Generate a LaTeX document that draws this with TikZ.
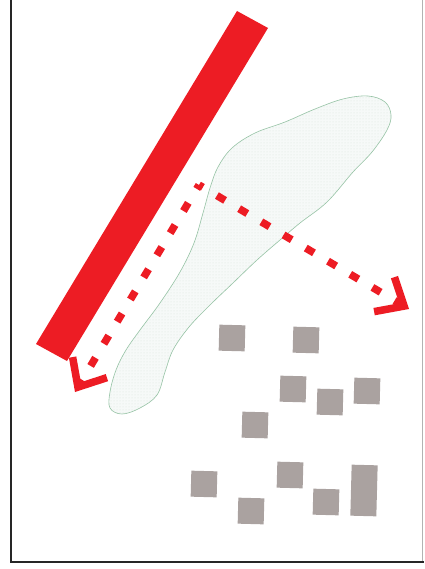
\documentclass[tikz,border=0pt]{standalone}
\usepackage{tikz}
\usetikzlibrary{arrows.meta,patterns}
\definecolor{planred}{RGB}{237,28,36}
\definecolor{blockgray}{RGB}{170,162,160}
\definecolor{blobfill}{RGB}{246,249,248}
\definecolor{blobline}{RGB}{150,195,165}
\definecolor{blobdot}{RGB}{218,228,222}
\tikzset{
  flow/.style={planred, line width=7.5pt, dash pattern=on 9.5pt off 16.3pt, dash phase=5pt,
    -{Straight Barb[length=23pt,width=40pt,line width=7.5pt,sharp]}},
  block/.style={fill=blockgray},
}
\begin{document}
\begin{tikzpicture}[x=1pt,y=-1pt]
        \useasboundingbox (0,0) rectangle (424,569);
        \fill[white] (0,0) rectangle (424,569);
        \draw[line width=2.5pt, black!85] (11,0) -- (11,562) -- (423.5,562);
        \draw[line width=1.2pt, black!30] (422.8,0) -- (422.8,561);
        \fill[planred] (237,11) -- (268,28) -- (67,361) -- (36,344) -- cycle;
        \draw[blobline, line width=0.6pt, preaction={fill=blobfill}, pattern=dots, pattern color=blobdot]
          plot[smooth cycle, tension=0.6] coordinates {
            (343,99) (368,96) (385,102) (391,115) (387,130) (372,152) (353,172) (327,202)
            (300,223) (280,240) (257,260) (233,283) (210,305) (189,327) (173,350) (165,372)
            (157,395) (140,408) (122,414) (110,408) (110,392) (116,370) (126,350) (140,330)
            (160,303) (180,272) (194,243) (203,213) (210,188) (218,167) (232,148) (255,133)
            (285,122) (315,109)};
        \coordinate (fork) at (199,185);
        \coordinate (tipsw) at (75,392);
        \coordinate (tipse) at (409,309);
        \draw[flow] (fork) -- (tipsw);
        \draw[flow] (fork) -- (tipse);
        \foreach \x/\y in {232/338,306/340,293/389,330/402,367/391,255/425,204/484,251/511,290/475,326/502} {
            \fill[block, rotate around={-1.5:(\x,\y)}] (\x-13,\y-13) rectangle (\x+13,\y+13);
          }
        \fill[block, rotate around={-1.5:(364,490)}] (351,465) rectangle (377,516);
      \end{tikzpicture}
\end{document}
